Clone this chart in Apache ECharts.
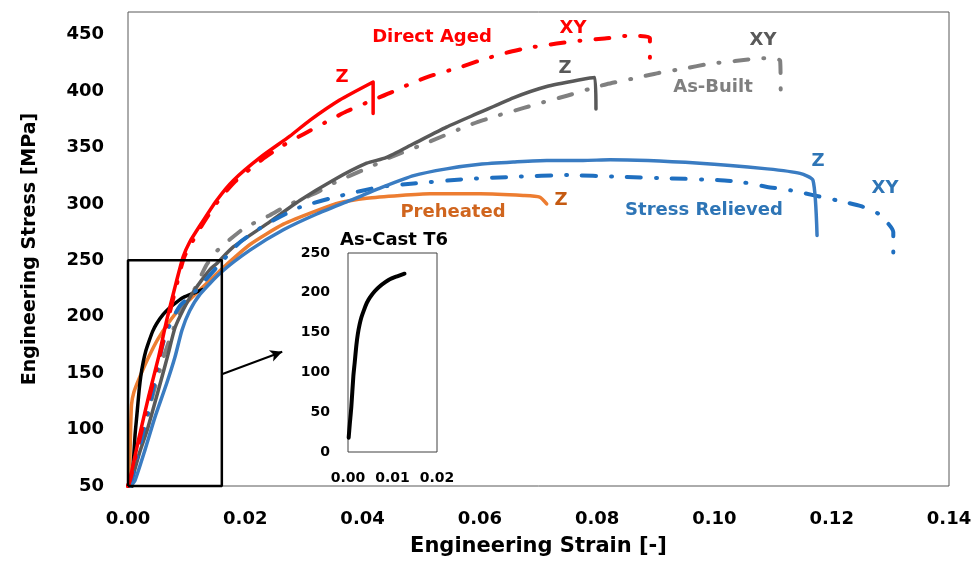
<!DOCTYPE html>
<html>
<head>
<meta charset="utf-8">
<script src="https://cdn.jsdelivr.net/npm/echarts@6/dist/echarts.min.js"></script>
<style>
html,body{margin:0;padding:0;background:#fff;}
#c{width:977px;height:573px;}
</style>
</head>
<body>
<div id="c"></div>
<script>
// ---- data (strain [-], stress [MPa]) ----
const directAgedZ = [[0,50],[0.0003,55],[0.0018,91],[0.0035,129],[0.0052,164],[0.0066,197],[0.008,226],[0.0094,253],[0.0105,266],[0.0123,281],[0.0151,303],[0.018,321],[0.0225,341],[0.0276,360],[0.031,374],[0.0361,392],[0.0418,408],[0.0418,380]];
const directAgedXY = [[0,50],[0.0005,58],[0.002,92],[0.0037,130],[0.0054,165],[0.0068,197],[0.0082,226],[0.0096,253],[0.0125,280],[0.0153,302],[0.0183,320],[0.0228,339],[0.0262,351],[0.03,362],[0.0336,372],[0.0373,382],[0.0413,391],[0.045,399],[0.0488,408],[0.052,414],[0.0566,421],[0.06,427],[0.0646,434],[0.068,438],[0.0731,442],[0.077,444.5],[0.0813,446.5],[0.0855,449],[0.089,447],[0.089,418]];
const asBuiltZ = [[0,50],[0.0006,55],[0.002,80],[0.0033,100],[0.0055,141],[0.0068,166],[0.008,190],[0.0095,207],[0.0109,220],[0.0125,232],[0.014,242],[0.0151,247],[0.018,262],[0.0236,282],[0.0293,303],[0.035,321],[0.0407,336],[0.044,341],[0.0486,353],[0.0543,368],[0.06,381],[0.0657,394],[0.0714,404],[0.0771,410],[0.0796,412],[0.0798,384]];
const asBuiltXY = [[0,50],[0.0008,62],[0.0025,95],[0.0042,130],[0.006,163],[0.0078,190],[0.0092,206],[0.0113,224],[0.0134,246],[0.0151,258],[0.0197,278],[0.0242,290],[0.0273,299],[0.0322,310],[0.0353,319],[0.0401,330],[0.0435,338],[0.0441,340],[0.05,352],[0.0583,370],[0.0629,378],[0.0675,385],[0.0708,390],[0.075,396],[0.0788,402],[0.0816,406],[0.087,412],[0.0905,416],[0.095,420],[0.099,424],[0.1035,426.5],[0.108,429],[0.1112,427],[0.1113,398]];
const stressRelievedZ = [[0.0005,50],[0.0012,55],[0.0029,82],[0.0046,111],[0.0066,141],[0.008,164],[0.0092,188],[0.0105,205],[0.0123,220],[0.0158,239],[0.0208,259],[0.0265,277],[0.0322,291],[0.0379,303],[0.0435,315],[0.0487,325],[0.0543,331],[0.06,335],[0.0657,337],[0.0714,338.5],[0.0776,338.5],[0.0822,339],[0.0975,336],[0.109,331],[0.1146,327],[0.1168,321],[0.1175,272]];
const stressRelievedXY = [[0.0003,50],[0.001,62],[0.0018,80],[0.0026,98],[0.0037,121],[0.0043,136],[0.0052,158],[0.006,177],[0.0074,196],[0.0089,210],[0.0114,222],[0.015,243],[0.0191,266],[0.0236,282],[0.0293,297],[0.0361,307],[0.043,315],[0.0487,318],[0.0577,322],[0.066,324],[0.075,325.5],[0.0836,324],[0.0924,322.6],[0.101,321],[0.105,319],[0.109,315],[0.113,312],[0.117,307.5],[0.121,303],[0.125,298],[0.128,291],[0.1305,275],[0.1305,244]];
const preheatedZ = [[0.0002,50],[0.0004,90],[0.0006,122],[0.001,133],[0.0018,144],[0.0035,164],[0.0052,181],[0.008,202],[0.0109,217],[0.0137,231],[0.0157,241],[0.0208,264],[0.0265,282],[0.0322,294],[0.0361,301],[0.0407,305],[0.0464,307.5],[0.0515,309],[0.06,309],[0.0674,307.5],[0.0702,306],[0.0714,300]];
const asCastT6 = [[0.00015,18],[0.0004,35],[0.00075,57],[0.0012,95],[0.0015,112],[0.0019,135],[0.0022,148],[0.0026,160],[0.003,169],[0.0035,177],[0.0042,187],[0.0049,194],[0.006,202],[0.0071,208],[0.0083,213],[0.0094,217],[0.0112,221],[0.0127,224]];
const zoomBox = [[0,50],[0.016,50],[0.016,250],[0,250],[0,50]];
const arrowLine = [[0.016,149],[0.0263,169]];

const FONT = '"DejaVu Sans", sans-serif';
const dashDot = [14, 15, 1, 15];

function solid(name, data, color, z) {
  return {name, type:'line', data, xAxisIndex:0, yAxisIndex:0, showSymbol:false, symbol:'none', smooth:0.2,
    lineStyle:{color, width:3.5, cap:'round', join:'round'}, z: z||2, animation:false};
}
function dashed(name, data, color, z) {
  return {name, type:'line', data, xAxisIndex:0, yAxisIndex:0, showSymbol:false, symbol:'none', smooth:0.2,
    lineStyle:{color, width:4, type:dashDot, cap:'round', join:'round'}, z: z||2, animation:false};
}

function txt(x, y, text, color, size) {
  return {type:'text', x, y, z:100, style:{text, fill:color, font:'bold '+(size||18)+'px '+FONT, align:'center', verticalAlign:'middle'}};
}

const chart = echarts.init(document.getElementById('c'), null, {renderer:'canvas'});
chart.setOption({
  backgroundColor:'#fff',
  animation:false,
  grid:[
    {left:128, top:12, width:821, height:474, show:true, borderColor:'#595959', borderWidth:1, backgroundColor:'transparent', containLabel:false},
    {left:348, top:253, width:89, height:199, show:true, borderColor:'#404040', borderWidth:1, backgroundColor:'#fff', containLabel:false, z:10}
  ],
  xAxis:[
    {type:'value', gridIndex:0, min:0, max:0.14, interval:0.02,
     name:'Engineering Strain [-]', nameLocation:'middle', nameGap:50,
     nameTextStyle:{fontFamily:FONT, fontWeight:'bold', fontSize:21, color:'#000'},
     axisLine:{show:false}, axisTick:{show:false}, splitLine:{show:false},
     axisLabel:{margin:24, fontFamily:FONT, fontWeight:'bold', fontSize:18, color:'#000', formatter:v=>v.toFixed(2)}},
    {type:'value', gridIndex:1, min:0, max:0.02, interval:0.01,
     axisLine:{show:false}, axisTick:{show:false}, splitLine:{show:false},
     axisLabel:{margin:19, fontFamily:FONT, fontWeight:'bold', fontSize:14, color:'#000', formatter:v=>v.toFixed(2)}, z:10}
  ],
  yAxis:[
    {type:'value', gridIndex:0, min:50, max:470, interval:50,
     name:'Engineering Stress [MPa]', nameLocation:'middle', nameGap:88, nameRotate:90,
     nameTextStyle:{fontFamily:FONT, fontWeight:'bold', fontSize:19, color:'#000'},
     axisLine:{show:false}, axisTick:{show:false}, splitLine:{show:false},
     axisLabel:{margin:24, fontFamily:FONT, fontWeight:'bold', fontSize:18, color:'#000', showMaxLabel:false,
       formatter:v=> (v%50===0 ? String(v) : '')}},
    {type:'value', gridIndex:1, min:0, max:250, interval:50,
     axisLine:{show:false}, axisTick:{show:false}, splitLine:{show:false},
     axisLabel:{margin:18, fontFamily:FONT, fontWeight:'bold', fontSize:14, color:'#000'}, z:10}
  ],
  series:[
    solid('Preheated Z', preheatedZ, '#ED7D31'),
    solid('As-Cast T6', asCastT6, '#000000'),
    dashed('As-Built XY', asBuiltXY, '#808080'),
    solid('As-Built Z', asBuiltZ, '#595959'),
    dashed('Stress Relieved XY', stressRelievedXY, '#1F6FC0'),
    solid('Stress Relieved Z', stressRelievedZ, '#3A7CC2'),
    dashed('Direct Aged XY', directAgedXY, '#FF0000'),
    solid('Direct Aged Z', directAgedZ, '#FF0000'),
    {name:'zoom box', type:'line', data:zoomBox, xAxisIndex:0, yAxisIndex:0, showSymbol:false, symbol:'none', clip:false,
     lineStyle:{color:'#000', width:2.5}, z:5, animation:false,
     markLine:{silent:true, symbol:['none','arrow'], symbolSize:[9,12], label:{show:false},
       lineStyle:{color:'#000', width:2, type:'solid'},
       data:[[{coord:arrowLine[0]},{coord:arrowLine[1]}]]}},
    {name:'As-Cast T6 inset', type:'line', data:asCastT6, xAxisIndex:1, yAxisIndex:1, showSymbol:false, symbol:'none', smooth:0.3,
     lineStyle:{color:'#000', width:4, cap:'round'}, z:12, animation:false}
  ],
  graphic:[
    txt(432, 37, 'Direct Aged', '#FF0000'),
    txt(573, 28, 'XY', '#FF0000'),
    txt(342, 77, 'Z', '#FF0000'),
    txt(565, 68, 'Z', '#595959'),
    txt(763, 40, 'XY', '#595959'),
    txt(713, 87, 'As-Built', '#7F7F7F'),
    txt(818, 161, 'Z', '#2E75B6'),
    txt(885, 188, 'XY', '#2E75B6'),
    txt(704, 210, 'Stress Relieved', '#2E75B6'),
    txt(453, 212, 'Preheated', '#D0651E'),
    txt(561, 200, 'Z', '#C55A11'),
    txt(394, 240, 'As-Cast T6', '#000000')
  ]
});
</script>
</body>
</html>
